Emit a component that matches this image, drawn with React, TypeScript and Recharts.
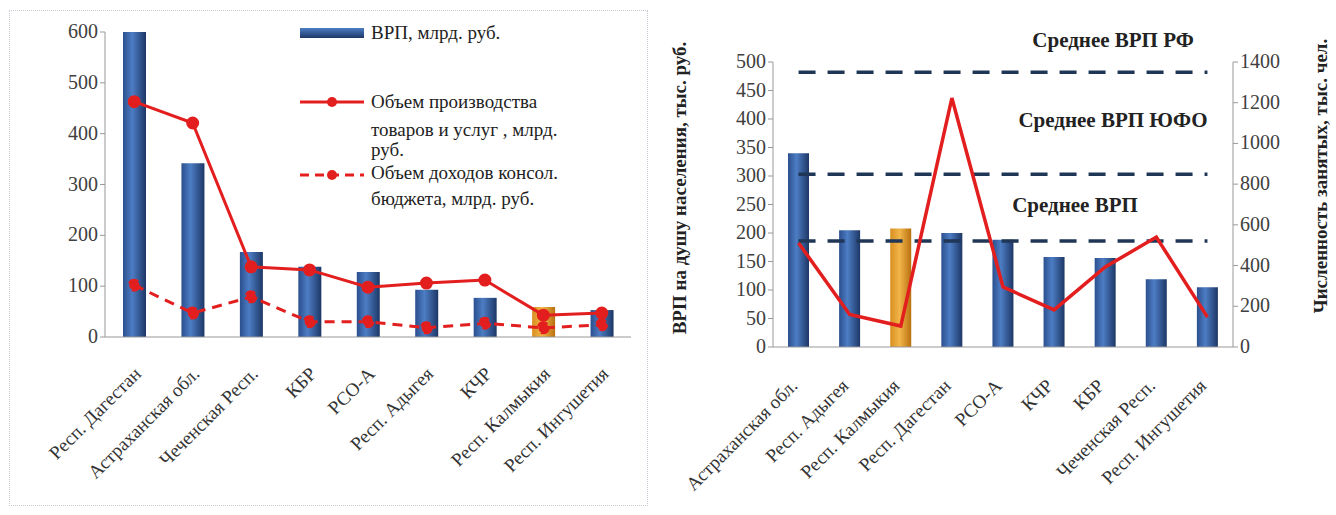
import React from 'react';
import {
  ComposedChart,
  Bar,
  Line,
  XAxis,
  YAxis,
  Cell,
  ReferenceLine,
} from 'recharts';

// left chart: regions sorted by GRP
const leftRegions = [
  'Респ. Дагестан',
  'Астраханская обл.',
  'Чеченская Респ.',
  'КБР',
  'РСО-А',
  'Респ. Адыгея',
  'КЧР',
  'Респ. Калмыкия',
  'Респ. Ингушетия',
];
const grp = [600, 342, 167, 138, 128, 93, 77, 59, 53];
const production = [463, 421, 138, 132, 98, 106, 112, 43, 47];
const budgetIncome = [102, 47, 79, 30, 30, 18, 27, 18, 24];
const leftTicks = [0, 100, 200, 300, 400, 500, 600];

// right chart: regions sorted by GRP per capita
const rightRegions = [
  'Астраханская обл.',
  'Респ. Адыгея',
  'Респ. Калмыкия',
  'Респ. Дагестан',
  'РСО-А',
  'КЧР',
  'КБР',
  'Чеченская Респ.',
  'Респ. Ингушетия',
];
const grpPerCapita = [340, 205, 208, 200, 188, 158, 156, 119, 105];
const employed = [511, 160, 103, 1223, 295, 182, 393, 540, 147];
const perCapitaTicks = [0, 50, 100, 150, 200, 250, 300, 350, 400, 450, 500];
const employedTicks = [0, 200, 400, 600, 800, 1000, 1200, 1400];

const averages = [
  { name: 'Среднее ВРП РФ', value: 482, dx: 110, dy: 30 },
  { name: 'Среднее ВРП ЮФО', value: 303, dx: 110, dy: 52 },
  { name: 'Среднее ВРП', value: 186, dx: 72, dy: 34 },
];

const highlight = 'Респ. Калмыкия';

const leftData = leftRegions.map((name, i) => ({
  name,
  grp: grp[i],
  production: production[i],
  budget: budgetIncome[i],
}));

const rightData = rightRegions.map((name, i) => ({
  name,
  perCapita: grpPerCapita[i],
  employed: employed[i],
}));

const SERIF = 'Liberation Serif';
const RED = '#e31e1e';

const AngledTick = ({ x, y, payload, dx = 8, dy = 28 }: any) => (
  <g transform={`translate(${x + dx},${y + dy})`}>
    <text
      textAnchor="end"
      transform="rotate(-45)"
      fontFamily={SERIF}
      fontSize={19}
      fill="#333"
    >
      {payload.value}
    </text>
  </g>
);

const NumTick = ({ x, y, payload, textAnchor }: any) => (
  <text
    x={x}
    y={y}
    dy={6}
    textAnchor={textAnchor}
    fontFamily={SERIF}
    fontSize={20}
    fill="#404040"
  >
    {payload.value}
  </text>
);

const Gradients = () => (
  <defs>
    <linearGradient id="blueBar" x1="0" y1="0" x2="1" y2="0">
      <stop offset="0%" stopColor="#2b4f8e" />
      <stop offset="40%" stopColor="#4d7dc4" />
      <stop offset="100%" stopColor="#1d3766" />
    </linearGradient>
    <linearGradient id="orangeBar" x1="0" y1="0" x2="1" y2="0">
      <stop offset="0%" stopColor="#d98f1f" />
      <stop offset="45%" stopColor="#f2b54a" />
      <stop offset="100%" stopColor="#b8700f" />
    </linearGradient>
  </defs>
);

const LeftLegend = () => (
  <svg width={320} height={200} style={{ position: 'absolute', left: 300, top: 18, overflow: 'visible' }}>
    <defs>
      <linearGradient id="blueLeg" x1="0" y1="0" x2="0" y2="1">
        <stop offset="0%" stopColor="#4d7dc4" />
        <stop offset="100%" stopColor="#1d3766" />
      </linearGradient>
    </defs>
    <g fontFamily={SERIF} fontSize={19} fill="#222">
      <rect x={0} y={10} width={64} height={10} fill="url(#blueLeg)" />
      <text x={71} y={21}>ВРП, млрд. руб.</text>

      <line x1={0} y1={84} x2={64} y2={84} stroke={RED} strokeWidth={3} />
      <circle cx={32} cy={84} r={5} fill={RED} />
      <text x={71} y={90}>Объем производства</text>
      <text x={71} y={118}>товаров и услуг , млрд.</text>
      <text x={71} y={138}>руб.</text>

      <line x1={0} y1={157} x2={64} y2={157} stroke={RED} strokeWidth={3} strokeDasharray="9 6" />
      <circle cx={32} cy={157} r={5} fill={RED} />
      <text x={71} y={161}>Объем доходов консол.</text>
      <text x={71} y={187}>бюджета, млрд. руб.</text>
    </g>
  </svg>
);

const AverageLabel = ({ viewBox, text, dx, dy }: any) => {
  const vb = viewBox || { x: 0, y: 0, width: 0 };
  return (
    <text
      x={vb.x + dx + (vb.width || 0) / 2}
      y={vb.y - dy}
      textAnchor="middle"
      dominantBaseline="middle"
      fontFamily={SERIF}
      fontWeight="bold"
      fontSize={21}
      fill="#222"
    >
      {text}
    </text>
  );
};

const AxisTitle = ({ x, y, text }: any) => (
  <text
    transform={`translate(${x},${y}) rotate(-90)`}
    textAnchor="middle"
    dominantBaseline="middle"
    fontFamily={SERIF}
    fontWeight="bold"
    fontSize={19}
    fill="#222"
  >
    {text}
  </text>
);

export default function App() {
  return (
    <div
      style={{
        position: 'absolute',
        left: 0,
        top: 0,
        width: 1336,
        height: 515,
        background: '#fff',
        fontFamily: SERIF,
      }}
    >
      <div
        style={{
          position: 'absolute',
          left: 9,
          top: 10,
          width: 637,
          height: 494,
          border: '1px dotted #c4c9d2',
        }}
      />
      <div style={{ position: 'absolute', left: 0, top: 0 }}>
        <ComposedChart
          width={650}
          height={515}
          data={leftData}
          margin={{ top: 32, right: 19, left: 40, bottom: 0 }}
        >
          <Gradients />
          <XAxis
            dataKey="name"
            interval={0}
            height={178}
            tick={<AngledTick dx={8} dy={30} />}
            tickLine={false}
            axisLine={{ stroke: '#999' }}
          />
          <YAxis
            domain={[0, 600]}
            ticks={leftTicks}
            interval={0}
            width={65}
            tick={<NumTick />}
            tickLine={{ stroke: '#999' }}
            tickSize={5}
            axisLine={{ stroke: '#999' }}
          />
          <Bar dataKey="grp" barSize={23} isAnimationActive={false}>
            {leftData.map((d) => (
              <Cell key={d.name} fill={d.name === highlight ? 'url(#orangeBar)' : 'url(#blueBar)'} />
            ))}
          </Bar>
          <Line
            dataKey="production"
            type="linear"
            stroke={RED}
            strokeWidth={3}
            dot={{ r: 5, fill: RED, stroke: RED }}
            isAnimationActive={false}
          />
          <Line
            dataKey="budget"
            type="linear"
            stroke={RED}
            strokeWidth={3}
            strokeDasharray="10 7"
            dot={{ r: 5, fill: RED, stroke: RED }}
            isAnimationActive={false}
          />
        </ComposedChart>
        <LeftLegend />
      </div>

      <div style={{ position: 'absolute', left: 660, top: 0 }}>
        <ComposedChart
          width={676}
          height={515}
          data={rightData}
          margin={{ top: 62, right: 43, left: 58, bottom: 0 }}
        >
          <Gradients />
          <XAxis
            dataKey="name"
            interval={0}
            height={168}
            tick={<AngledTick dx={0} dy={32} />}
            tickLine={false}
            axisLine={{ stroke: '#999' }}
          />
          <YAxis
            yAxisId="left"
            domain={[0, 500]}
            ticks={perCapitaTicks}
            interval={0}
            width={55}
            tick={<NumTick />}
            tickSize={5}
            tickLine={{ stroke: '#999' }}
            axisLine={{ stroke: '#999' }}
            label={{ content: () => <AxisTitle x={22} y={188} text="ВРП на душу населения, тыс. руб." /> }}
          />
          <YAxis
            yAxisId="right"
            orientation="right"
            domain={[0, 1400]}
            ticks={employedTicks}
            interval={0}
            width={60}
            tick={<NumTick />}
            tickSize={5}
            tickLine={{ stroke: '#999' }}
            axisLine={{ stroke: '#999' }}
            label={{ content: () => <AxisTitle x={663} y={176} text="Численность занятых, тыс. чел." /> }}
          />
          <Bar yAxisId="left" dataKey="perCapita" barSize={21} isAnimationActive={false}>
            {rightData.map((d) => (
              <Cell key={d.name} fill={d.name === highlight ? 'url(#orangeBar)' : 'url(#blueBar)'} />
            ))}
          </Bar>
          {averages.map((a) => (
            <ReferenceLine
              key={a.name}
              yAxisId="left"
              segment={[
                { x: rightRegions[0], y: a.value },
                { x: rightRegions[rightRegions.length - 1], y: a.value },
              ]}
              stroke="#1f3656"
              strokeWidth={3.5}
              strokeDasharray="17 12"
              label={<AverageLabel text={a.name} dx={a.dx} dy={a.dy} />}
            />
          ))}
          <Line
            yAxisId="right"
            dataKey="employed"
            type="linear"
            stroke={RED}
            strokeWidth={3.5}
            dot={false}
            isAnimationActive={false}
          />
        </ComposedChart>
      </div>
    </div>
  );
}
